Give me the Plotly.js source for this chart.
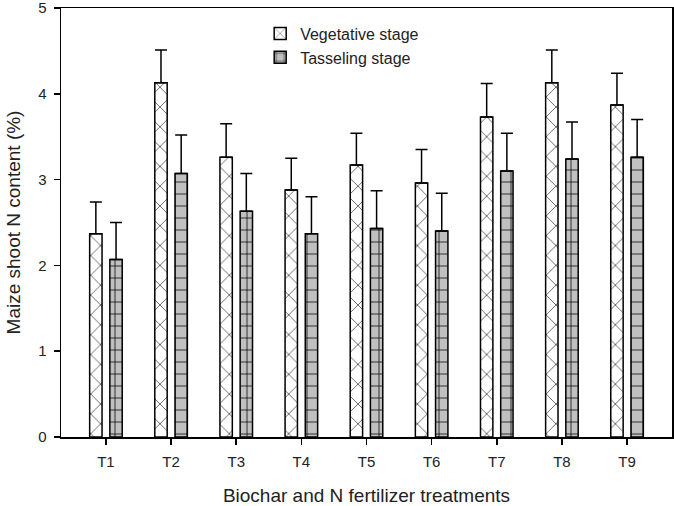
<!DOCTYPE html>
<html>
<head>
<meta charset="utf-8">
<script src="https://cdn.plot.ly/plotly-3.0.1.min.js"></script>
<style>html,body{margin:0;padding:0;background:#fff;}#chart{width:674px;height:506px;}</style>
</head>
<body>
<div id="chart"></div>
<script>
const categories = ["T1","T2","T3","T4","T5","T6","T7","T8","T9"];
const vegetative = [2.37, 4.13, 3.26, 2.88, 3.17, 2.96, 3.73, 4.13, 3.87];
const vegetativeErr = [0.37, 0.38, 0.39, 0.37, 0.37, 0.39, 0.39, 0.38, 0.37];
const tasseling = [2.07, 3.07, 2.63, 2.37, 2.43, 2.40, 3.10, 3.24, 3.26];
const tasselingErr = [0.43, 0.45, 0.44, 0.43, 0.44, 0.44, 0.44, 0.43, 0.44];
const yTicks = [0, 1, 2, 3, 4, 5];
const zeros = categories.map(() => 0);

const font = "Liberation Sans, Arial, sans-serif";

const traces = [
  {
    type: "bar", name: "Vegetative stage", x: categories, y: vegetative,
    width: 0.19, offset: -0.25,
    marker: {color: "#ffffff", line: {color: "#000", width: 1.5},
      pattern: {shape: "x", fgcolor: "#000", bgcolor: "#ffffff", size: 14, solidity: 0.08}},
    error_y: {type: "data", symmetric: false, array: vegetativeErr, arrayminus: zeros,
      color: "#000", thickness: 1.5, width: 6}
  },
  {
    type: "bar", name: "Tasseling stage", x: categories, y: tasseling,
    width: 0.19, offset: 0.06,
    marker: {color: "#c0c0c0", line: {color: "#000", width: 1.5},
      pattern: {shape: "+", fgcolor: "#000", bgcolor: "#c0c0c0", size: 12, solidity: 0.12}},
    error_y: {type: "data", symmetric: false, array: tasselingErr, arrayminus: zeros,
      color: "#000", thickness: 1.5, width: 6}
  }
];

const layout = {
  width: 674, height: 506,
  margin: {l: 61, r: 2, t: 8, b: 69},
  paper_bgcolor: "#fff", plot_bgcolor: "#fff",
  barmode: "overlay",
  font: {family: font, color: "#222", size: 15},
  showlegend: true,
  legend: {x: 0.326, y: 0.98, xanchor: "left", yanchor: "top",
    font: {family: font, size: 16, color: "#222"}, bgcolor: "rgba(0,0,0,0)", tracegroupgap: 0},
  xaxis: {
    type: "category", range: [-0.69, 8.69],
    showline: true, linecolor: "#000", linewidth: 1.5, mirror: true,
    ticks: "outside", ticklen: 6, tickwidth: 1.5, tickcolor: "#000",
    ticklabelstandoff: 4, ticklabeloverflow: "allow",
    showgrid: false, zeroline: false,
    tickfont: {family: font, size: 15, color: "#222"},
    title: {text: "Biochar and N fertilizer treatments", font: {family: font, size: 19, color: "#222"}, standoff: 20}
  },
  yaxis: {
    range: [0, 5], tickvals: yTicks,
    showline: true, linecolor: "#000", linewidth: 1.5, mirror: true,
    ticks: "outside", ticklen: 6, tickwidth: 1.5, tickcolor: "#000",
    ticklabelstandoff: 4, ticklabeloverflow: "allow",
    showgrid: false, zeroline: false,
    tickfont: {family: font, size: 15, color: "#222"},
    title: {text: "Maize shoot N content (%)", font: {family: font, size: 19, color: "#222"}, standoff: 12}
  }
};

Plotly.newPlot("chart", traces, layout, {displayModeBar: false, staticPlot: true});
</script>
</body>
</html>
